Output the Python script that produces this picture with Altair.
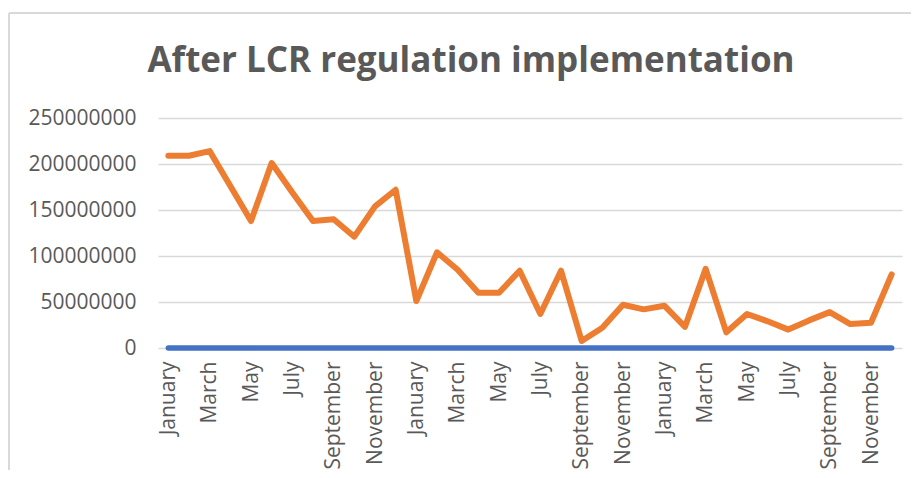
import altair as alt
import pandas as pd

month_names = ["January", "February", "March", "April", "May", "June", "July",
               "August", "September", "October", "November", "December"]
years = ["Y1", "Y2", "Y3"]
periods = [f"{y} {m}" for y in years for m in month_names]

# Series values
after_lcr = [209e6, 209e6, 214e6, 176e6, 138e6, 201e6, 169e6, 138e6, 140e6, 121e6, 154e6, 172e6,
             51e6, 104e6, 85e6, 60e6, 60e6, 84e6, 37e6, 84e6, 7.6e6, 22e6, 47e6, 42e6,
             46e6, 23e6, 86e6, 17e6, 37e6, 29e6, 20e6, 30e6, 39e6, 26e6, 27.5e6, 80e6]
baseline_series = [0, 0, 0, 0, 0, 0, 0, 0, 0, 0, 0, 0,
                   0, 0, 0, 0, 0, 0, 0, 0, 0, 0, 0, 0,
                   0, 0, 0, 0, 0, 0, 0, 0, 0, 0, 0, 0]
y_ticks = [0, 50000000, 100000000, 150000000, 200000000, 250000000]
chart_title = "After LCR regulation implementation"

df_orange = pd.DataFrame({"period": periods, "value": after_lcr, "order": list(range(len(periods)))})
df_blue = pd.DataFrame({"period": periods, "value": baseline_series, "order": list(range(len(periods)))})

FONT = "Open Sans"
GREY = "#595959"
GRID = "#d9d9d9"

x_enc = alt.X("period:N", sort=periods,
              scale=alt.Scale(type="point", padding=0.5),
              axis=alt.Axis(values=periods[::2], labelExpr="split(datum.value, ' ')[1]",
                            labelAngle=-90, labelFont=FONT, labelFontSize=21, labelColor=GREY,
                            ticks=False, domain=False, grid=False, labelPadding=13,
                            title=None))
y_enc = alt.Y("value:Q", scale=alt.Scale(domain=[0, 250000000], nice=False),
              axis=alt.Axis(values=y_ticks, format="d", labelFont=FONT, labelFontSize=21,
                            labelColor=GREY, ticks=False, domain=False, labelPadding=22,
                            gridColor=GRID, gridWidth=1.5, title=None))

blue = alt.Chart(df_blue).mark_line(color="#4472C4", strokeWidth=5.5, strokeCap="round").encode(
    x=x_enc, y=y_enc, order="order:Q")
orange = alt.Chart(df_orange).mark_line(color="#ED7D31", strokeWidth=6, strokeCap="round",
                                        strokeJoin="round").encode(
    x=x_enc, y=y_enc, order="order:Q")

frame_df = pd.DataFrame({"a": [0]})
frame_left = alt.Chart(frame_df).mark_rule(color=GRID, strokeWidth=2).encode(
    x=alt.value(-149), y=alt.value(-105), y2=alt.value(400))
frame_top = alt.Chart(frame_df).mark_rule(color=GRID, strokeWidth=2).encode(
    x=alt.value(-149), x2=alt.value(800), y=alt.value(-105))

title_df = pd.DataFrame({"t": [chart_title]})
title = alt.Chart(title_df).mark_text(font=FONT, fontSize=35, fontWeight="bold", color=GREY,
                                      align="center", baseline="alphabetic").encode(
    text="t:N", x=alt.value(313), y=alt.value(-46))

chart = alt.layer(frame_left, frame_top, title, blue, orange).properties(
    width=744, height=230,
    autosize=alt.AutoSizeParams(type="none"),
    padding={"left": 150, "top": 110, "right": 9, "bottom": 122},
).configure_view(stroke=None)

chart.save("out.html", embed_options={"renderer": "svg", "actions": False})
